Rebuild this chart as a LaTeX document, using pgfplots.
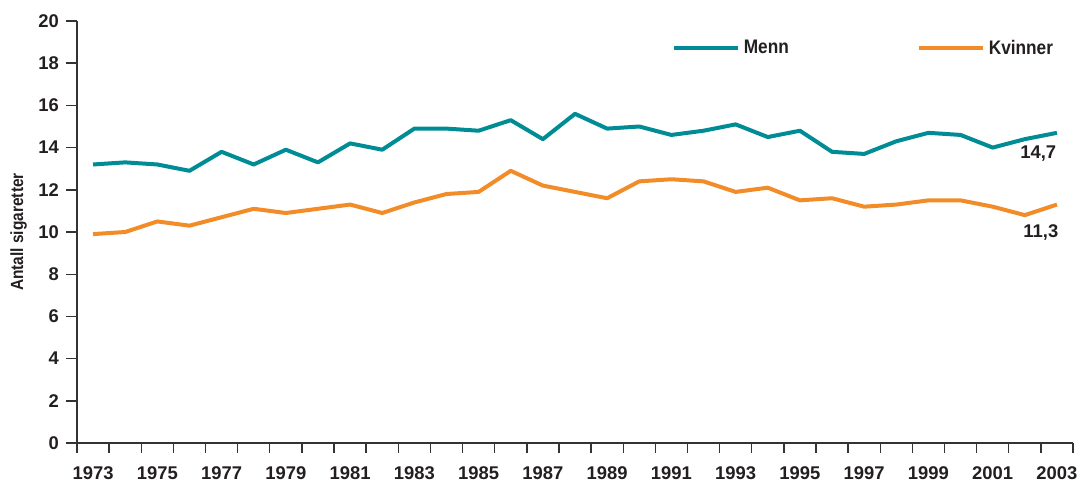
\documentclass[border=0pt]{standalone}
\usepackage{fontspec}
\setmainfont{Liberation Sans}
\newfontfamily\condfont{Liberation Sans}[FakeStretch=0.88]
\usepackage{pgfplots}
\pgfplotsset{compat=1.18}
\definecolor{menn}{HTML}{008C95}
\definecolor{kvinner}{HTML}{F28C28}
\definecolor{txt}{HTML}{231F20}
\definecolor{axl}{HTML}{333333}
\begin{document}
\begin{tikzpicture}
\path[use as bounding box] (-38.5pt,-19.5pt) rectangle (501.5pt,221.5pt);
\begin{axis}[
  at={(0,0)}, anchor=south west,
  scale only axis, width=498pt, height=211pt,
  xmin=1972.5, xmax=2003.5, ymin=0, ymax=20,
  axis x line*=bottom, axis y line*=left,
  axis line style={axl, line width=0.7pt},
  every tick/.style={axl, line width=0.7pt},
  tick align=outside,
  xtick={1973,1975,...,2003},
  minor xtick={1972.5,1973.5,...,2003.5},
  major x tick style={draw=none},
  minor tick length=5pt,
  major tick length=5.5pt,
  ytick={0,2,...,20},
  /pgf/number format/assume math mode=true,
  /pgf/number format/1000 sep={},
  ticklabel style={font=\bfseries\fontsize{9.2}{10}\selectfont, text=txt},
  xticklabel style={yshift=-2.8pt},
  ylabel={\condfont\bfseries Antall sigaretter},
  ylabel style={font=\fontsize{8.8}{10}\selectfont, text=txt, yshift=-1pt},
  legend columns=2,
  legend style={draw=none, fill=none, inner sep=0pt, at={(axis cs:1991.0,18.7)}, anchor=west,
    font=\condfont\bfseries\fontsize{9.8}{11}\selectfont, text=txt,
    /tikz/every even column/.append style={column sep=62pt}},
  legend image code/.code={\draw[#1, line width=2pt] (0pt,0pt) -- (32pt,0pt);},
  clip=false,
]
\addplot[menn, line width=2pt, line join=round] coordinates {
(1973,13.2) (1974,13.3) (1975,13.2) (1976,12.9) (1977,13.8) (1978,13.2) (1979,13.9) (1980,13.3)
(1981,14.2) (1982,13.9) (1983,14.9) (1984,14.9) (1985,14.8) (1986,15.3) (1987,14.4) (1988,15.6)
(1989,14.9) (1990,15.0) (1991,14.6) (1992,14.8) (1993,15.1) (1994,14.5) (1995,14.8) (1996,13.8)
(1997,13.7) (1998,14.3) (1999,14.7) (2000,14.6) (2001,14.0) (2002,14.4) (2003,14.7)};
\addlegendentry{Menn}
\addplot[kvinner, line width=2pt, line join=round] coordinates {
(1973,9.9) (1974,10.0) (1975,10.5) (1976,10.3) (1977,10.7) (1978,11.1) (1979,10.9) (1980,11.1)
(1981,11.3) (1982,10.9) (1983,11.4) (1984,11.8) (1985,11.9) (1986,12.9) (1987,12.2) (1988,11.9)
(1989,11.6) (1990,12.4) (1991,12.5) (1992,12.4) (1993,11.9) (1994,12.1) (1995,11.5) (1996,11.6)
(1997,11.2) (1998,11.3) (1999,11.5) (2000,11.5) (2001,11.2) (2002,10.8) (2003,11.3)};
\addlegendentry{Kvinner}
\node[font=\bfseries\fontsize{9.2}{10}\selectfont, text=txt] at (axis cs:2002.42,13.72) {14,7};
\node[font=\bfseries\fontsize{9.2}{10}\selectfont, text=txt] at (axis cs:2002.5,9.97) {11,3};
\end{axis}
\end{tikzpicture}
\end{document}
